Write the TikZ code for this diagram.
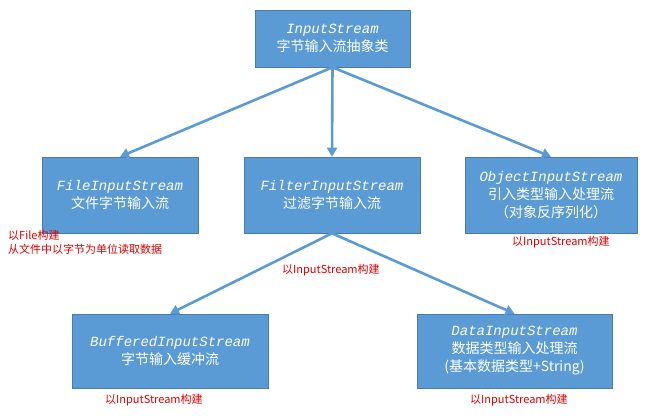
\documentclass[tikz,border=0pt]{standalone}
\usepackage{fontspec}
\setmainfont{Noto Sans CJK SC}
\newfontfamily\cls{Liberation Mono}
\usetikzlibrary{arrows.meta}
\definecolor{bx}{HTML}{5B9BD5}
\definecolor{rd}{HTML}{E00000}
\begin{document}
\begin{tikzpicture}[x=1pt,y=-1pt,
  box/.style={fill=bx,draw=bx!80!black,line width=0.6pt,text=white,align=center,font=\fontsize{14}{18}\selectfont,inner sep=0pt},
  arr/.style={draw=bx,line width=2.6pt,-{Triangle[length=9pt,width=10pt]}},
  note/.style={text=rd,font=\fontsize{11}{14}\selectfont,align=left,inner sep=0pt}]
\useasboundingbox (0,0) rectangle (650,419);
\node[box,minimum width=155pt,minimum height=57pt] (top) at (332.5,38.5) {{\cls\itshape InputStream}\\字节输入流抽象类};
\node[box,minimum width=156pt,minimum height=76pt] (file) at (120,195) {{\cls\itshape FileInputStream}\\文件字节输入流};
\node[box,minimum width=176pt,minimum height=76pt] (filter) at (332,195) {{\cls\itshape FilterInputStream}\\过滤字节输入流};
\node[box,minimum width=172pt,minimum height=76pt] (obj) at (551,195) {{\cls\itshape ObjectInputStream}\\引入类型输入处理流\\（对象反序列化）};
\node[box,minimum width=196pt,minimum height=74pt] (buf) at (170,351) {{\cls\itshape BufferedInputStream}\\字节输入缓冲流};
\node[box,minimum width=195pt,minimum height=74pt] (data) at (514.5,351) {{\cls\itshape DataInputStream}\\数据类型输入处理流\\(基本数据类型+String)};
\draw[arr] (top.south) -- (file.north);
\draw[arr] (top.south) -- (filter.north);
\draw[arr] (top.south) -- (obj.north);
\draw[arr] (filter.south) -- (buf.north);
\draw[arr] (filter.south) -- (data.north);
\node[note,anchor=north west] (n1) at (8,230) {以File构建\\从文件中以字节为单位读取数据};
\node[note,anchor=north west] (n2) at (512,236) {以InputStream构建};
\node[note,anchor=north west] (n3) at (282,264) {以InputStream构建};
\node[note,anchor=north west] (n4) at (105,394) {以InputStream构建};
\node[note,anchor=north west] (n5) at (470,394) {以InputStream构建};
\end{tikzpicture}
\end{document}
